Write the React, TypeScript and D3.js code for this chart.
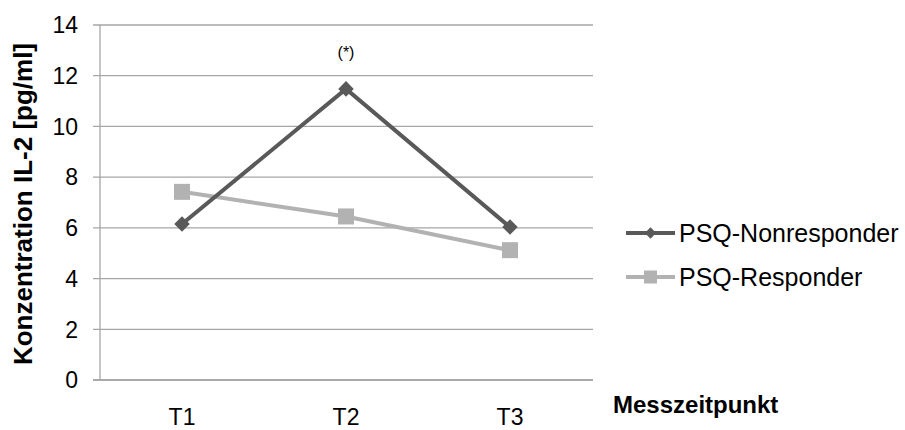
import React from "react";
import * as d3 from "d3";

const categories = ["T1", "T2", "T3"];
const nonresponder = [6.15, 11.48, 6.03];
const responder = [7.42, 6.45, 5.12];
const yTicks = [0, 2, 4, 6, 8, 10, 12, 14];
const seriesNames = ["PSQ-Nonresponder", "PSQ-Responder"];

export default function App() {
  const W = 905, H = 430;
  const x = d3.scaleBand().domain(categories).range([100, 592]);
  const y = d3.scaleLinear().domain([0, 14]).range([380, 25]);
  const cx = (c: string) => (x(c) as number) + x.bandwidth() / 2;
  const line = d3.line<number>().x((_, i) => cx(categories[i])).y((d) => y(d));
  const font = "Arial, 'Liberation Sans', sans-serif";
  const dark = "#595959";
  const light = "#b2b2b2";
  return (
    <svg width={W} height={H} style={{ position: "absolute", left: 0, top: 0, background: "#fff" }} fontFamily={font}>
      {yTicks.map((t) => (
        <g key={t}>
          <line x1={93} x2={593} y1={y(t)} y2={y(t)} stroke={t === 0 ? "#8c8c8c" : "#a6a6a6"} strokeWidth={1.3} />
          <text x={78} y={y(t)} dy="0.36em" textAnchor="end" fontSize={23} fill="#000">{t}</text>
        </g>
      ))}
      <line x1={100} x2={100} y1={y(14)} y2={y(0)} stroke="#a6a6a6" strokeWidth={1.3} />
      {categories.map((c) => (
        <text key={c} x={cx(c)} y={425} textAnchor="middle" fontSize={23}>{c}</text>
      ))}
      <text transform="translate(32,204) rotate(-90)" textAnchor="middle" fontSize={26} fontWeight="bold">Konzentration IL-2 [pg/ml]</text>
      <text x={613} y={413} fontSize={24} fontWeight="bold">Messzeitpunkt</text>
      <text x={cx("T2")} y={58} textAnchor="middle" fontSize={16}>(*)</text>
      <path d={line(responder) as string} fill="none" stroke={light} strokeWidth={4} />
      {responder.map((v, i) => (
        <rect key={i} x={cx(categories[i]) - 8} y={y(v) - 8} width={16} height={16} fill={light} />
      ))}
      <path d={line(nonresponder) as string} fill="none" stroke={dark} strokeWidth={4} />
      {nonresponder.map((v, i) => (
        <rect key={i} x={-5.5} y={-5.5} width={11} height={11} fill={dark}
          transform={`translate(${cx(categories[i])},${y(v)}) rotate(45)`} />
      ))}
      <g>
        <line x1={626} x2={675} y1={233} y2={233} stroke={dark} strokeWidth={4} />
        <rect x={-4} y={-4} width={8} height={8} fill={dark} transform="translate(650.5,233) rotate(45)" />
        <text x={679} y={233} dy="0.36em" fontSize={25}>{seriesNames[0]}</text>
        <line x1={626} x2={675} y1={277} y2={277} stroke={light} strokeWidth={4} />
        <rect x={644} y={270.5} width={13} height={13} fill={light} />
        <text x={679} y={277} dy="0.36em" fontSize={25}>{seriesNames[1]}</text>
      </g>
    </svg>
  );
}
